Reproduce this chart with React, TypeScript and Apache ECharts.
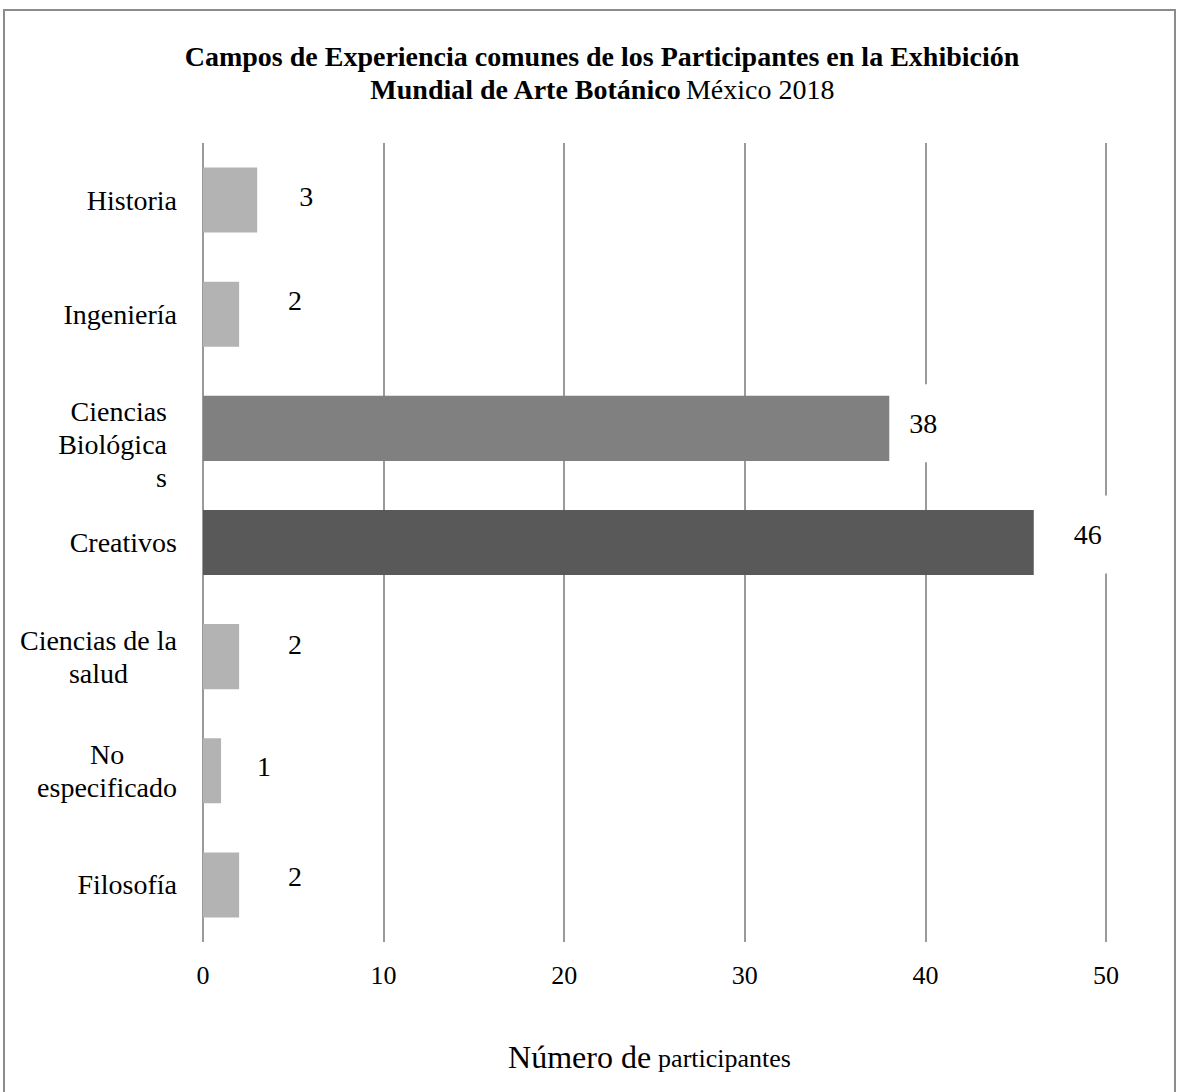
import React, { useEffect, useRef } from "react";
import * as echarts from "echarts";

const categories = [
  "Historia",
  "Ingeniería",
  "Ciencias\nBiológica\ns",
  "Creativos",
  "Ciencias de la\nsalud",
  "No\nespecificado",
  "Filosofía",
];
const values = [3, 2, 38, 46, 2, 1, 2];
const xMin = 0;
const xMax = 50;
const xStep = 10;

const titleLine1 = "Campos de Experiencia comunes de los Participantes en la Exhibición";
const titleLine2Bold = "Mundial de Arte Botánico";
const titleLine2Normal = "México 2018";
const axisNameBig = "Número de";
const axisNameSmall = "participantes";

// styling (not data)
const barColors = ["#b3b3b3", "#b3b3b3", "#808080", "#595959", "#b3b3b3", "#b3b3b3", "#b3b3b3"];
const labelNudge = [
  [34, -4],
  [41, -14],
  [12, -5],
  [32, -8],
  [41, -12],
  [28, -4],
  [41, -8],
];

const FONT = "'Liberation Serif', 'Times New Roman', serif";

export default function App() {
  const ref = useRef<HTMLDivElement>(null);
  useEffect(() => {
    if (!ref.current) return;
    const chart = echarts.init(ref.current, undefined, { renderer: "svg" });
    const option: any = {
      animation: false,
      backgroundColor: "#ffffff",
      textStyle: { fontFamily: FONT, color: "#000" },
      title: {
        text: `{b|${titleLine1}}\n{b|${titleLine2Bold}} {n|${titleLine2Normal}}`,
        left: 597,
        textAlign: "center",
        top: 35,
        textStyle: {
          rich: {
            b: { fontFamily: FONT, fontWeight: "bold", fontSize: 28, lineHeight: 33, color: "#000" },
            n: { fontFamily: FONT, fontWeight: "normal", fontSize: 28, lineHeight: 33, color: "#000" },
          },
        },
      },
      graphic: [
        {
          type: "rect",
          shape: { x: 4, y: 10, width: 1171, height: 1100 },
          style: { fill: "none", stroke: "#8c8c8c", lineWidth: 2 },
          silent: true,
          z: -1,
        },
      ],
      grid: { left: 203, right: 71, top: 143, bottom: 150, containLabel: false },
      xAxis: {
        type: "value",
        min: xMin,
        max: xMax,
        interval: xStep,
        axisLine: { show: false },
        axisTick: { show: false },
        splitLine: { show: true, lineStyle: { color: "#9a9a9a", width: 2 } },
        axisLabel: { fontFamily: FONT, fontSize: 26, color: "#000", margin: 20 },
        name: `{a|${axisNameBig}} {b|${axisNameSmall}}`,
        nameLocation: "middle",
        nameGap: 97,
        nameTextStyle: {
          fontFamily: FONT,
          fontSize: 28,
          rich: {
            a: { fontFamily: FONT, fontSize: 32, lineHeight: 36, color: "#000" },
            b: { fontFamily: FONT, fontSize: 26, lineHeight: 36, color: "#000", padding: [3, 10, 0, 0] },
          },
        },
      },
      yAxis: {
        type: "category",
        data: categories,
        inverse: true,
        axisLine: { show: false },
        axisTick: { show: false },
        splitLine: { show: false },
        axisLabel: {
          margin: 26,
          formatter: (v: string) => {
            const lines = v.split("\n");
            if (lines.length === 3) {
              return `{sp| }\n` + lines.map((l) => `{r3|${l}}`).join("\n");
            }
            if (lines.length === 2) {
              return lines.map((l) => `{c|${l}}`).join("\n");
            }
            return `{r|${v}}`;
          },
          rich: {
            r: { fontFamily: FONT, fontSize: 28, lineHeight: 33, color: "#000", align: "right" },
            r3: {
              fontFamily: FONT,
              fontSize: 28,
              lineHeight: 33,
              color: "#000",
              align: "right",
              padding: [0, 10, 0, 0],
            },
            c: { fontFamily: FONT, fontSize: 28, lineHeight: 33, color: "#000", align: "center" },
            sp: { fontSize: 10, lineHeight: 33 },
          },
        },
      },
      series: [
        {
          type: "bar",
          barWidth: "57%",
          data: values.map((v, i) => ({
            value: v,
            itemStyle: { color: barColors[i] },
            label: { offset: labelNudge[i] },
          })),
          label: {
            show: true,
            position: "right",
            distance: 0,
            fontFamily: FONT,
            fontSize: 28,
            color: "#000",
            backgroundColor: "#ffffff",
            padding: [14, 8, 36, 8],
          },
        },
      ],
    };
    chart.setOption(option);
    return () => chart.dispose();
  }, []);
  return (
    <div
      ref={ref}
      style={{ position: "absolute", left: 0, top: 0, width: 1177, height: 1092 }}
    />
  );
}
